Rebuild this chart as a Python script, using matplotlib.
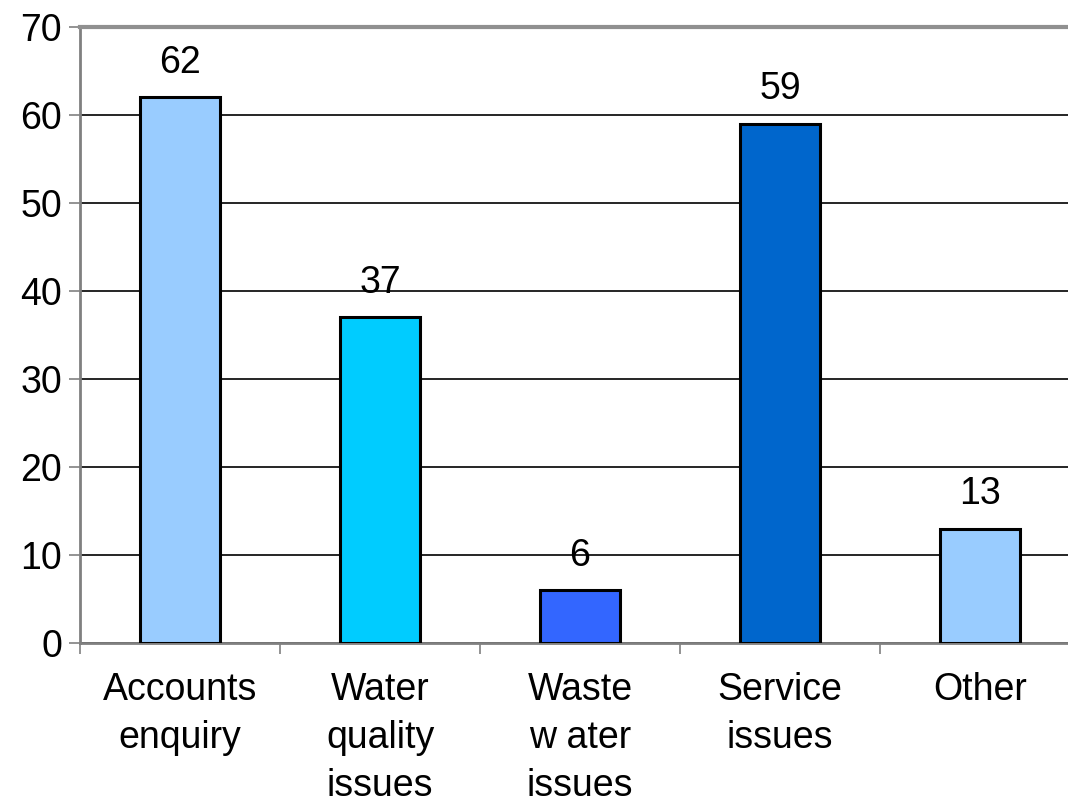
import matplotlib.pyplot as plt
import numpy as np

plt.rcParams['font.family'] = ['Liberation Sans', 'DejaVu Sans']

# data
categories = ['Accounts\nenquiry', 'Water\nquality\nissues', 'Waste\nw ater\nissues',
              'Service\nissues', 'Other']
values = [62, 37, 6, 59, 13]
colors = ['#99CCFF', '#00CCFF', '#3366FF', '#0066CC', '#99CCFF']
yticks = [0, 10, 20, 30, 40, 50, 60, 70]

fig = plt.figure(figsize=(10.68, 8.07), dpi=100)
ax = fig.add_axes([80 / 1068, 1 - 643 / 807, 1000 / 1068, (643 - 27) / 807])

index = np.arange(len(values))
bars = ax.bar(index, values, 0.4, color=colors, edgecolor='black', linewidth=2.2, zorder=3)

for i, v in enumerate(values):
    ax.annotate(str(v), (index[i], v), xytext=(0, 12), textcoords='offset points',
                ha='center', va='bottom', fontsize=27)

ax.set_xlim(-0.5, len(values) - 0.5)
ax.set_ylim(0, 70)
ax.set_yticks(yticks)
ax.set_yticklabels([str(t) for t in yticks], fontsize=27)
ax.yaxis.grid(True, color='black', linewidth=1.2, zorder=0)

ax.set_xticks(np.arange(len(values) + 1) - 0.5)
ax.set_xticklabels([])
ax.set_xticks(index, minor=True)
ax.set_xticklabels(categories, minor=True, fontsize=27, linespacing=1.42, va='top')
ax.tick_params(axis='x', which='minor', length=0, pad=21)
ax.tick_params(axis='x', which='major', length=8, width=1.2, color='#808080', direction='out')
ax.tick_params(axis='y', length=8, width=1.2, color='#808080', pad=5)

for s in ['left', 'bottom']:
    ax.spines[s].set_color('#808080')
    ax.spines[s].set_linewidth(2)
ax.spines['top'].set_color('#909090')
ax.spines['top'].set_linewidth(3)
ax.spines['right'].set_visible(False)

fig.savefig('out.png', dpi=100)
